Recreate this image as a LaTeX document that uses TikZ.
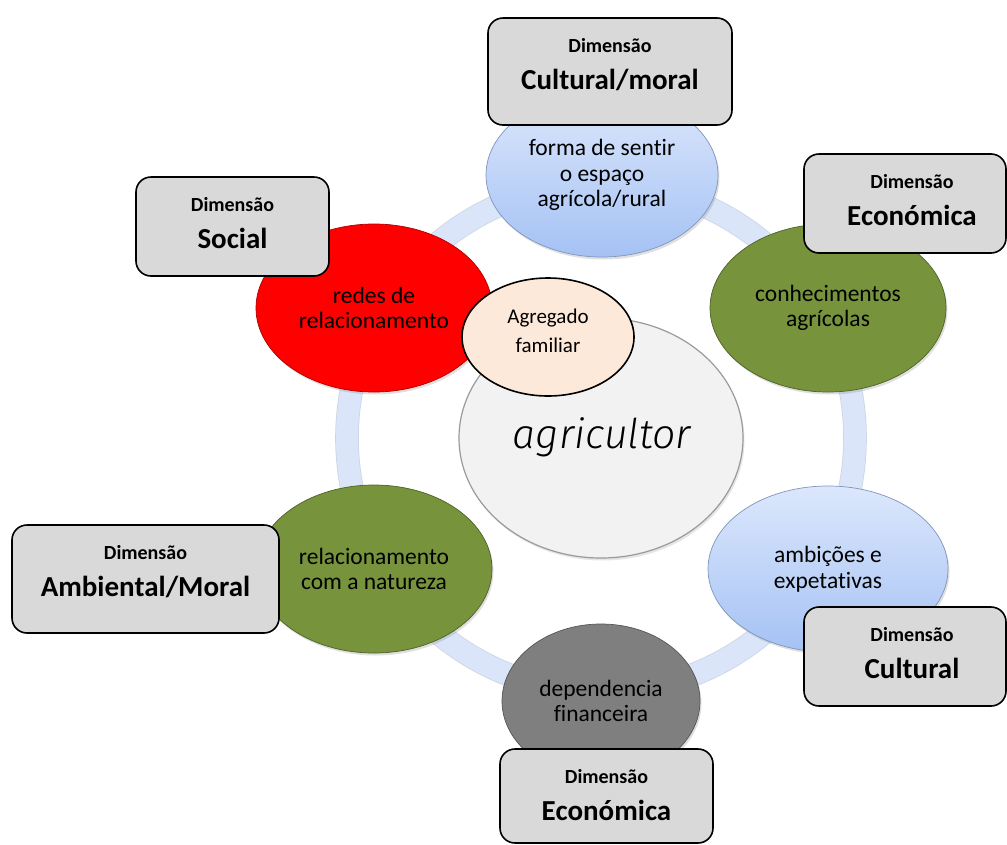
\documentclass[tikz,border=0pt]{standalone}
\usepackage{fontspec}
\setmainfont{Carlito}[Ligatures=NoCommon]
\newfontfamily\handfont{Fira Sans Light Italic}
\usetikzlibrary{shapes.geometric,shadows}

\definecolor{ringblue}{HTML}{DAE5F9}
\definecolor{ringedge}{HTML}{CDD5E4}
\definecolor{boxgray}{HTML}{D9D9D9}
\definecolor{leafgreen}{HTML}{77933C}
\definecolor{leafedge}{HTML}{4F6228}
\definecolor{hotred}{HTML}{FF0000}
\definecolor{rededge}{HTML}{B00000}
\definecolor{midgray}{HTML}{7F7F7F}
\definecolor{grayedge}{HTML}{555555}
\definecolor{skytop}{HTML}{DCE7FC}
\definecolor{skybot}{HTML}{A5C2F4}
\definecolor{skyedge}{HTML}{7F95BC}
\definecolor{corefill}{HTML}{F2F2F2}
\definecolor{coreedge}{HTML}{9A9A9A}
\definecolor{peach}{HTML}{FDE9D9}

% one grey rounded panel with a two-line caption
\newcommand\dimpanel[7]{%
  \node[dimbox, minimum width=#4-#2, minimum height=#5-#3] (#1) at ({(#2+#4)/2},{(#3+#5)/2}) {};
  \node[dimsmall, anchor=base] (#1-a) at ([xshift=#7pt,yshift=-35.5pt]#1.north) {Dimensão};
  \node[dimbig, anchor=base] (#1-b) at ([xshift=#7pt,yshift=-72.5pt]#1.north) {#6};
}

\begin{document}
\begin{tikzpicture}[x=1pt,y=-1pt,
  facet/.style={ellipse, draw, line width=0.7pt, inner sep=0pt, align=center,
    font=\fontsize{23.5}{25.5}\selectfont,
    drop shadow={opacity=0.25, shadow xshift=1.5pt, shadow yshift=-2.5pt}},
  sky/.style={facet, draw=skyedge, top color=skytop, bottom color=skybot},
  leaf/.style={facet, draw=leafedge, fill=leafgreen},
  dimbox/.style={draw=black, line width=1.6pt, fill=boxgray, rounded corners=15pt, inner sep=0pt},
  dimsmall/.style={font=\fontsize{20}{24}\selectfont\bfseries, inner sep=0pt},
  dimbig/.style={font=\fontsize{29}{34}\selectfont\bfseries, inner sep=0pt},
]
\useasboundingbox (0,0) rectangle (1007,844);

% the ring linking the six facets
\node[circle, minimum size=508pt, inner sep=0pt, draw=ringedge, line width=0.8pt,
      double=ringblue, double distance=22pt] (ring) at (601,438) {};

% six facets around the ring
\node[sky, minimum width=232pt, minimum height=164pt] (sentir) at (602,175)
  {forma de sentir\\o espaço\\agrícola/rural};
\node[leaf, minimum width=236pt, minimum height=168pt] (saber) at (828,308)
  {conhecimentos\\agrícolas};
\node[sky, minimum width=240pt, minimum height=166pt] (ambicao) at (828,569)
  {ambições e\\expetativas};
\node[facet, draw=grayedge, fill=midgray, minimum width=198pt, minimum height=154pt] (dinheiro) at (601,701)
  {dependencia\\financeira};
\node[leaf, minimum width=236pt, minimum height=168pt] (natureza) at (374,569)
  {relacionamento\\com a natureza};
\node[facet, draw=rededge, fill=hotred, minimum width=236pt, minimum height=168pt] (redes) at (374,308)
  {redes de\\relacionamento};

% the farmer at the centre
\node[ellipse, draw=coreedge, line width=1.2pt, fill=corefill, minimum width=284pt, minimum height=240pt,
      inner sep=0pt, drop shadow={opacity=0.2, shadow xshift=1.5pt, shadow yshift=-2.5pt}] (core) at (601,438) {};
\node[font=\handfont\fontsize{41}{46}\selectfont, inner sep=0pt] (coretext) at (602,437) {agricultor};

% household
\node[ellipse, draw=black, line width=1.6pt, fill=peach, minimum width=172pt, minimum height=118pt,
      inner sep=0pt] (familia) at (548,337) {};
\node[font=\fontsize{21}{29}\selectfont, align=center, inner sep=0pt] (familiatext) at (548,331)
  {Agregado\\familiar};

% dimension panels
\dimpanel{pcult}{488}{18}{732}{125}{Cultural/moral}{0}
\dimpanel{peco}{804}{154}{1006}{253}{Económica}{7}
\dimpanel{psoc}{136}{177}{329}{276}{Social}{0}
\dimpanel{pamb}{12}{525}{279}{633}{Ambiental/Moral}{0}
\dimpanel{pcul}{804}{607}{1006}{706}{Cultural}{7}
\dimpanel{pfin}{500}{749}{713}{843}{Económica}{0}
\end{tikzpicture}
\end{document}
